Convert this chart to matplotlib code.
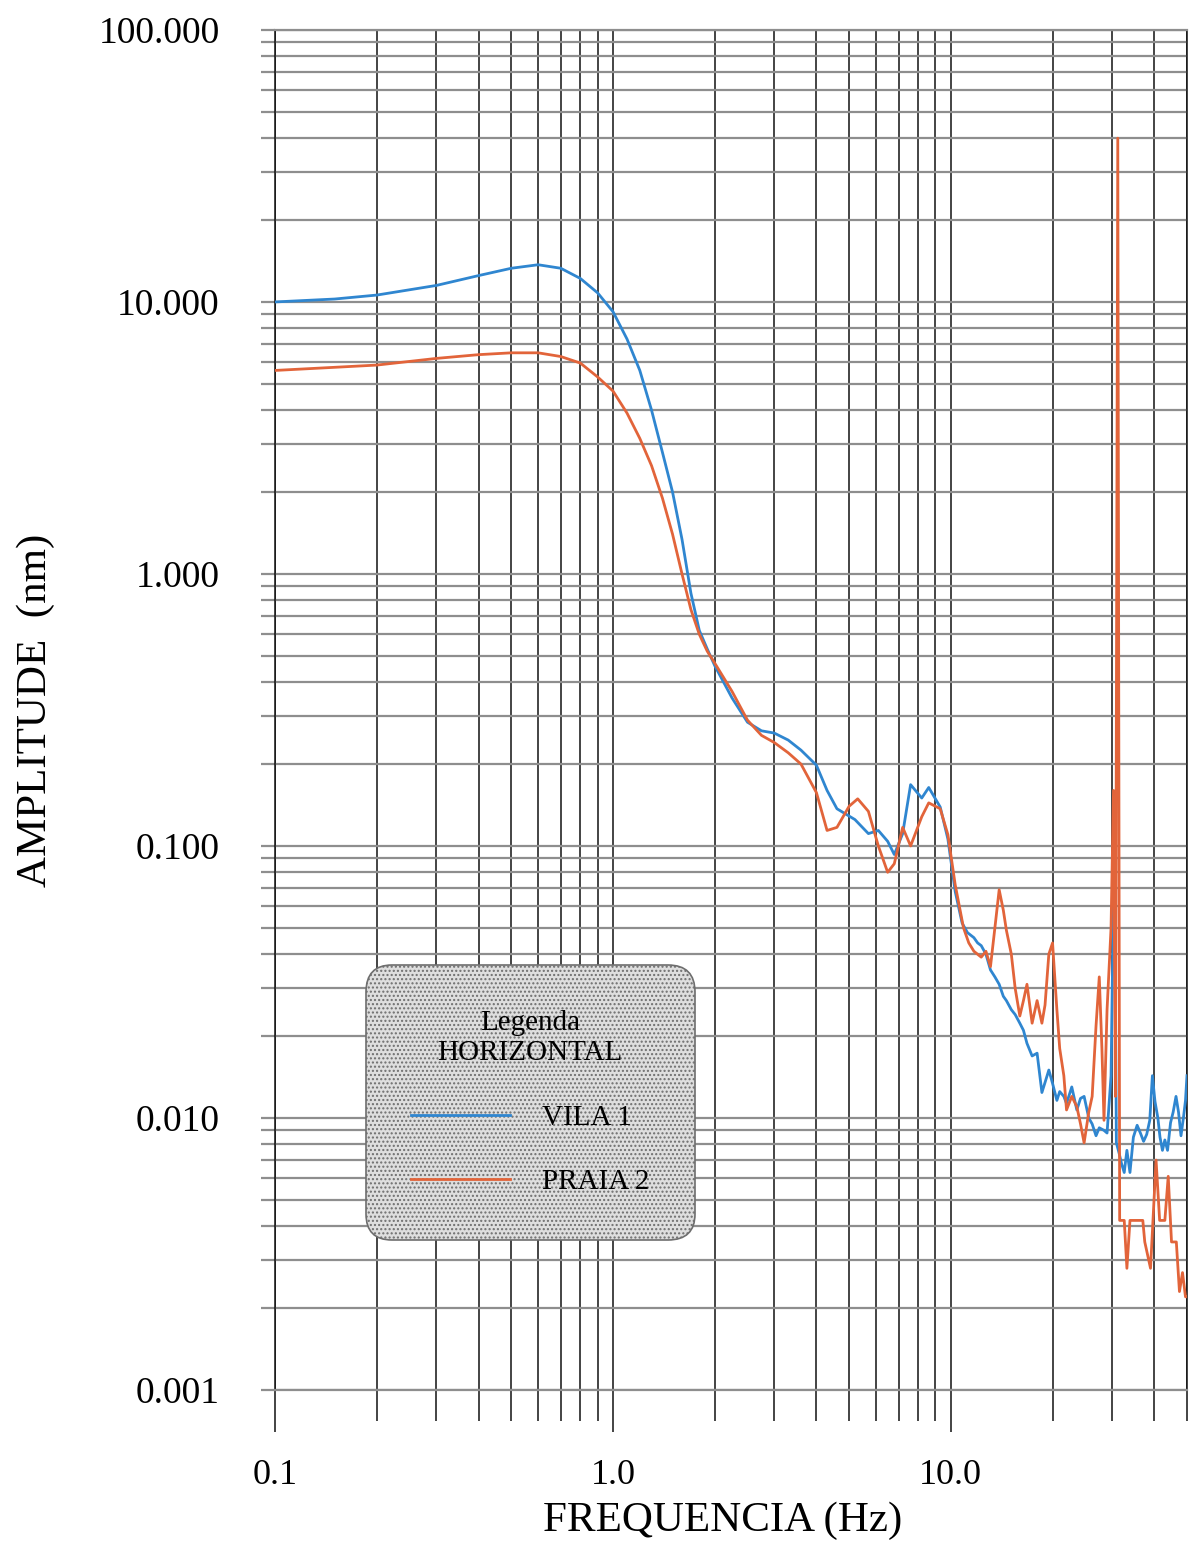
import matplotlib
matplotlib.use("Agg")
import matplotlib.pyplot as plt
from matplotlib.ticker import FixedLocator, FixedFormatter, LogLocator, NullFormatter
import numpy as np

plt.rcParams['font.family'] = ['Liberation Serif', 'DejaVu Serif']

# VILA 1 (horizontal)
vila_freq = [0.1, 0.15, 0.2, 0.3, 0.4, 0.5, 0.6, 0.7, 0.8, 0.9, 1.0, 1.1, 1.2, 1.3, 1.4,
             1.5, 1.6, 1.7, 1.8, 1.9, 2.0, 2.25, 2.5, 2.75, 3.0, 3.3, 3.6, 4.0, 4.3, 4.6,
             5.2, 5.7, 6.1, 6.5, 6.8, 7.2, 7.6, 8.2, 8.6, 9.3, 9.8, 10.3, 10.8, 11.2, 11.7,
             12.0, 12.3, 12.7, 13.1, 13.5, 13.9, 14.3, 14.6, 15.1, 15.5, 16.0, 16.4, 16.8,
             17.4, 18.0, 18.6, 19.0, 19.5, 20.0, 20.6, 21.0, 21.6, 22.0, 22.8, 23.6, 24.2,
             24.8, 25.6, 26.2, 26.9, 27.5, 28.4, 29.0, 29.8, 30.5, 30.9, 31.5, 32.0, 32.6,
             33.2, 33.9, 34.7, 35.6, 36.4, 37.2, 38.0, 38.8, 39.5, 40.2, 41.0, 41.6, 42.3,
             43.0, 43.8, 44.7, 45.5, 46.4, 47.2, 48.0, 48.8, 49.5, 50.0]
vila_amp = [10.0, 10.25, 10.6, 11.5, 12.5, 13.3, 13.7, 13.3, 12.2, 10.8, 9.2, 7.3, 5.6, 4.0,
            2.8, 2.0, 1.34, 0.85, 0.62, 0.53, 0.46, 0.35, 0.285, 0.265, 0.26, 0.245, 0.225,
            0.198, 0.16, 0.137, 0.125, 0.111, 0.114, 0.104, 0.093, 0.111, 0.168, 0.15, 0.164,
            0.139, 0.106, 0.068, 0.052, 0.048, 0.046, 0.044, 0.043, 0.040, 0.035, 0.033,
            0.031, 0.028, 0.027, 0.025, 0.024, 0.0223, 0.021, 0.0188, 0.0169, 0.0173, 0.0124,
            0.0135, 0.015, 0.0134, 0.0116, 0.0125, 0.012, 0.0113, 0.013, 0.0107, 0.0118,
            0.012, 0.010, 0.0095, 0.0086, 0.0092, 0.009, 0.0088, 0.0143, 0.12, 0.0081,
            0.0074, 0.0068, 0.0063, 0.0076, 0.0063, 0.0085, 0.0094, 0.0088, 0.0082, 0.0087,
            0.0098, 0.0143, 0.0115, 0.010, 0.0085, 0.0076, 0.0083, 0.0076, 0.0096, 0.0105,
            0.012, 0.0105, 0.0086, 0.0100, 0.0116, 0.0143]

# PRAIA 2 (horizontal)
praia_freq = [0.1, 0.15, 0.2, 0.3, 0.4, 0.5, 0.6, 0.7, 0.8, 0.9, 1.0, 1.1, 1.2, 1.3, 1.4,
              1.5, 1.6, 1.7, 1.8, 1.9, 2.0, 2.25, 2.5, 2.75, 3.0, 3.3, 3.6, 4.0, 4.3, 4.6,
              5.0, 5.3, 5.7, 6.1, 6.5, 6.8, 7.2, 7.6, 8.2, 8.6, 9.3, 9.8, 10.3, 10.9, 11.3,
              11.7, 12.3, 12.7, 13.1, 13.5, 13.9, 14.3, 14.6, 15.1, 15.5, 16.0, 16.4, 16.8,
              17.4, 18.0, 18.6, 19.0, 19.5, 20.0, 20.6, 21.0, 21.6, 22.0, 22.8, 23.6, 24.2,
              24.8, 25.6, 26.2, 26.9, 27.5, 28.0, 28.4, 29.0, 29.8, 30.3, 30.7, 31.2, 31.6,
              32.6, 33.2, 33.9, 34.5, 37.0, 37.5, 39.0, 40.5, 41.5, 43.0, 44.0, 45.0, 46.5,
              47.5, 48.5, 49.5, 50.0]
praia_amp = [5.6, 5.75, 5.86, 6.2, 6.4, 6.5, 6.5, 6.3, 5.96, 5.3, 4.7, 3.9, 3.15, 2.5, 1.9,
             1.4, 1.0, 0.74, 0.60, 0.52, 0.47, 0.37, 0.29, 0.255, 0.24, 0.22, 0.20, 0.157,
             0.114, 0.117, 0.14, 0.149, 0.134, 0.10, 0.08, 0.086, 0.117, 0.10, 0.128, 0.144,
             0.137, 0.11, 0.072, 0.050, 0.044, 0.041, 0.039, 0.041, 0.036, 0.05, 0.069, 0.058,
             0.049, 0.040, 0.030, 0.0237, 0.027, 0.031, 0.0223, 0.027, 0.0223, 0.026, 0.040,
             0.044, 0.025, 0.018, 0.0143, 0.0107, 0.012, 0.011, 0.0095, 0.0081, 0.0105, 0.012,
             0.0218, 0.033, 0.018, 0.0098, 0.025, 0.05, 0.16, 0.012, 40.0, 0.0042, 0.0042,
             0.0028, 0.0042, 0.0042, 0.0042, 0.0035, 0.0028, 0.007, 0.0042, 0.0042, 0.0061,
             0.0035, 0.0035, 0.0023, 0.0027, 0.0022, 0.0022]

x_ticks = [0.1, 1.0, 10.0]
x_ticklabels = ['0.1', '1.0', '10.0']
y_ticks = [0.001, 0.01, 0.1, 1.0, 10.0, 100.0]
y_ticklabels = ['0.001', '0.010', '0.100', '1.000', '10.000', '100.000']

BLUE = '#2f86d0'
ORANGE = '#e2643a'
GRID_V = '#111111'
GRID_H = '#8e8e8e'

fig = plt.figure(figsize=(12.02, 15.43), dpi=100)
ax = fig.add_axes([0.229, 0.0992, 0.7585, 0.8814])

ax.set_xscale('log')
ax.set_yscale('log')
ax.set_xlim(0.1, 50)
ax.set_ylim(0.001, 100)

l1, = ax.plot(vila_freq, vila_amp, color=BLUE, lw=2.0, zorder=3, label='VILA 1')
l2, = ax.plot(praia_freq, praia_amp, color=ORANGE, lw=2.0, zorder=3, label='PRAIA 2')

ax.xaxis.set_major_locator(FixedLocator(x_ticks))
ax.xaxis.set_major_formatter(FixedFormatter(x_ticklabels))
ax.xaxis.set_minor_locator(LogLocator(base=10, subs=np.arange(2, 10)))
ax.xaxis.set_minor_formatter(NullFormatter())
ax.yaxis.set_major_locator(FixedLocator(y_ticks))
ax.yaxis.set_major_formatter(FixedFormatter(y_ticklabels))
ax.yaxis.set_minor_locator(LogLocator(base=10, subs=np.arange(2, 10)))
ax.yaxis.set_minor_formatter(NullFormatter())

ax.grid(True, which='both', axis='x', color=GRID_V, lw=1.1, zorder=1)
ax.grid(True, which='both', axis='y', color=GRID_H, lw=1.6, zorder=1)
ax.set_axisbelow(True)

ax.tick_params(axis='x', which='major', direction='out', length=30, width=1.1,
               color=GRID_V, pad=20, labelsize=26)
ax.tick_params(axis='x', which='minor', direction='out', length=22, width=1.1, color=GRID_V)
ax.tick_params(axis='y', which='both', direction='out', length=10, width=1.6,
               color=GRID_H, pad=30, labelsize=27)

for side in ['left', 'right']:
    ax.spines[side].set_color(GRID_V)
    ax.spines[side].set_linewidth(1.1)
for side in ['top', 'bottom']:
    ax.spines[side].set_color(GRID_H)
    ax.spines[side].set_linewidth(1.6)

ax.set_xlabel('FREQUENCIA (Hz)', fontsize=31, va='center')
ax.xaxis.set_label_coords(0.491, -0.096)
ax.set_ylabel('AMPLITUDE  (nm)', fontsize=31, va='center')
ax.yaxis.set_label_coords(-0.263, 0.5)

leg = ax.legend(handles=[l1, l2], title='Legenda\nHORIZONTAL', loc='lower left',
                bbox_to_anchor=(0.099, 0.110), fontsize=21, title_fontsize=21,
                handlelength=3.4, handletextpad=1.1, labelspacing=1.3, borderpad=1.55,
                borderaxespad=0, framealpha=1, fancybox=True)
leg.get_title().set_multialignment('center')
frame = leg.get_frame()
frame.set_boxstyle('round,pad=0,rounding_size=0.9')
frame.set_facecolor('#dedede')
frame.set_edgecolor('#6e6e6e')
frame.set_linewidth(1.2)
frame.set_hatch('....')
leg.set_zorder(5)

fig.savefig('out.png', dpi=100)
